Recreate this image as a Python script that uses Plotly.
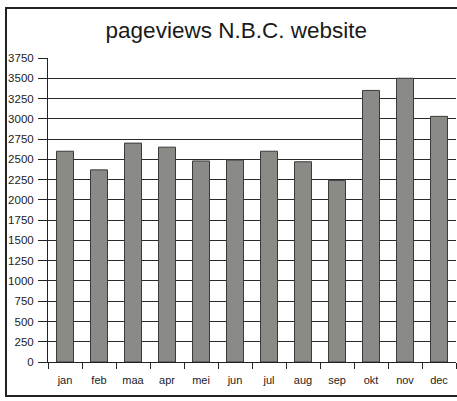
import plotly.graph_objects as go

months = ["jan", "feb", "maa", "apr", "mei", "jun", "jul", "aug", "sep", "okt", "nov", "dec"]
pageviews = [2600, 2370, 2700, 2650, 2480, 2490, 2600, 2470, 2240, 3350, 3500, 3030]
y_ticks = list(range(0, 3751, 250))

FONT = "Liberation Sans, Arial, sans-serif"

fig = go.Figure(go.Bar(
    x=months, y=pageviews,
    marker=dict(color="#8a8a87", line=dict(color="#3a3a3a", width=1)),
))

fig.update_layout(
    width=457, height=401,
    margin=dict(l=48, r=1, t=58, b=39),
    paper_bgcolor="white", plot_bgcolor="white",
    bargap=0.5,
    showlegend=False,
    title=dict(text="pageviews N.B.C. website", x=0.517, xanchor="center",
               y=1 - 30 / 401, yanchor="middle",
               font=dict(family=FONT, size=22.5, color="#1a1a1a")),
    shapes=[dict(type="rect", xref="paper", yref="paper",
                 x0=-42 / 408, x1=1.05, y0=-34 / 304, y1=1 + 50 / 304,
                 line=dict(color="#222", width=2))],
)
fig.update_xaxes(
    type="category", tickson="boundaries", ticks="outside", ticklen=6,
    tickcolor="#222", showgrid=False, showline=True, linecolor="#222", linewidth=1,
    ticklabelstandoff=8,
    tickfont=dict(family=FONT, size=11, color="#222"),
)
fig.update_yaxes(
    range=[0, 3750], tickvals=y_ticks, ticks="outside", ticklen=9, tickcolor="#222",
    showgrid=True, gridcolor="#2a2a2a", gridwidth=1,
    showline=True, linecolor="#222", linewidth=1, zeroline=False,
    ticklabelstandoff=2,
    tickfont=dict(family=FONT, size=11.5, color="#222"),
)

fig.write_html(
    "out.html",
    config={"displayModeBar": False},
    post_script="document.body.style.margin='0';document.body.style.padding='0';"
                "document.body.style.overflow='hidden';",
)
